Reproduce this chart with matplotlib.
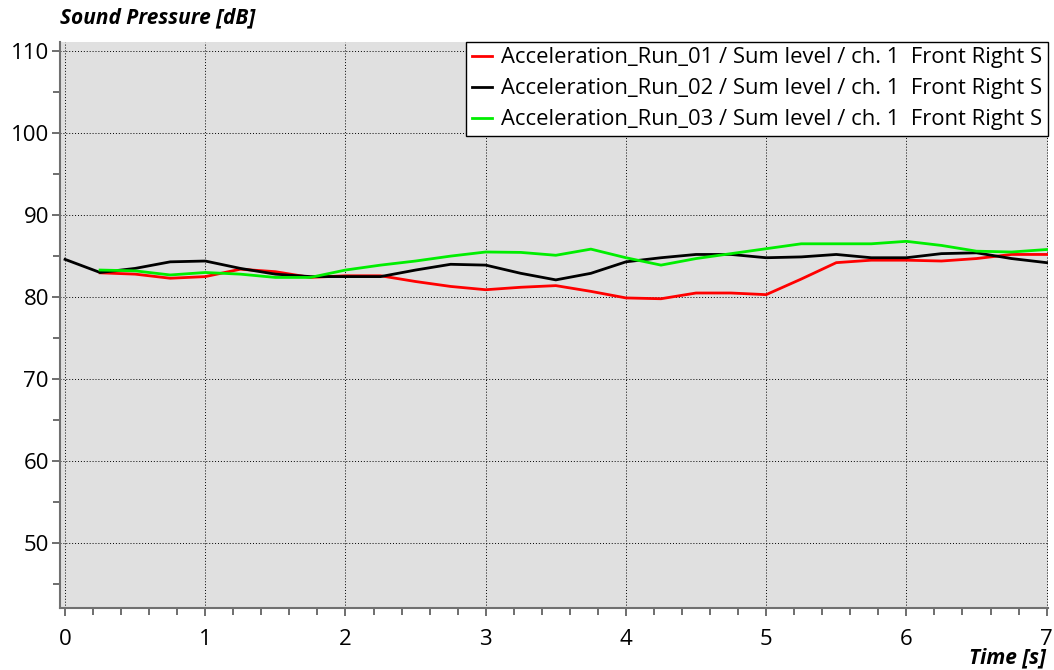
import matplotlib.pyplot as plt
from matplotlib.ticker import MultipleLocator

# time axis in seconds, 0.25 s steps
time_all = [i * 0.25 for i in range(29)]
time_runs = time_all[1:]

run_01 = [82.96, 82.8, 82.3, 82.5, 83.4, 83.1, 82.4, 82.6, 82.6, 81.9, 81.3, 80.9, 81.2, 81.4,
          80.7, 79.9, 79.8, 80.5, 80.5, 80.3, 82.2, 84.2, 84.5, 84.5, 84.4, 84.7, 85.2, 85.2]
run_02 = [84.6, 83.0, 83.5, 84.3, 84.4, 83.5, 82.8, 82.5, 82.5, 82.5, 83.3, 84.0, 83.9, 82.9, 82.1,
          82.9, 84.3, 84.8, 85.2, 85.2, 84.8, 84.9, 85.2, 84.8, 84.8, 85.3, 85.4, 84.7, 84.2]
run_03 = [83.3, 83.2, 82.7, 83.0, 82.8, 82.4, 82.4, 83.3, 83.9, 84.4, 85.0, 85.5, 85.45, 85.1,
          85.85, 84.8, 83.9, 84.7, 85.3, 85.9, 86.5, 86.5, 86.5, 86.8, 86.3, 85.6, 85.5, 85.8]

labels = ["Acceleration_Run_01 / Sum level / ch. 1  Front Right S",
          "Acceleration_Run_02 / Sum level / ch. 1  Front Right S",
          "Acceleration_Run_03 / Sum level / ch. 1  Front Right S"]

plt.rcParams['font.family'] = ['Open Sans', 'DejaVu Sans']

fig = plt.figure(figsize=(10.54, 6.70), dpi=100)
ax = fig.add_axes([60 / 1054, 1 - 608 / 670, 988 / 1054, 566 / 670])
ax.set_facecolor('#e0e0e0')

ax.plot(time_runs, run_01, color='#ff0000', lw=2.0, label=labels[0])
ax.plot(time_all, run_02, color='black', lw=2.0, label=labels[1])
ax.plot(time_runs, run_03, color='#00ee00', lw=2.0, label=labels[2])

ax.set_xlim(-0.036, 7.01)
ax.set_ylim(42.1, 111.1)
ax.xaxis.set_major_locator(MultipleLocator(1))
ax.xaxis.set_minor_locator(MultipleLocator(0.2))
ax.yaxis.set_major_locator(MultipleLocator(10))
ax.yaxis.set_minor_locator(MultipleLocator(5))
ax.set_yticks(range(50, 111, 10))

ax.grid(True, which='major', color='black', linestyle=(0, (1, 2)), lw=0.7)
ax.set_axisbelow(True)

for side in ['top', 'right']:
    ax.spines[side].set_visible(False)
for side in ['left', 'bottom']:
    ax.spines[side].set_color('#707070')
    ax.spines[side].set_linewidth(1.5)

ax.tick_params(which='both', direction='out', color='#555555', width=1.2, labelsize=16)
ax.tick_params(which='major', length=6)
ax.tick_params(which='minor', length=5)
ax.tick_params(axis='x', pad=9)
ax.tick_params(axis='y', pad=2)

leg = ax.legend(loc='upper right', fontsize=15.8, frameon=True, fancybox=False,
                framealpha=1, edgecolor='black', handlelength=0.9, handletextpad=0.45,
                borderaxespad=0, borderpad=0.25, labelspacing=0.45)
leg.get_frame().set_linewidth(1.0)

fig.text(60 / 1054, 1 - 18 / 670, "Sound Pressure [dB]", fontsize=15, fontweight='bold',
         fontstyle='italic', ha='left', va='center')
fig.text(1046 / 1054, 1 - 658 / 670, "Time [s]", fontsize=15, fontweight='bold',
         fontstyle='italic', ha='right', va='center')

plt.savefig("out.png", dpi=100)
